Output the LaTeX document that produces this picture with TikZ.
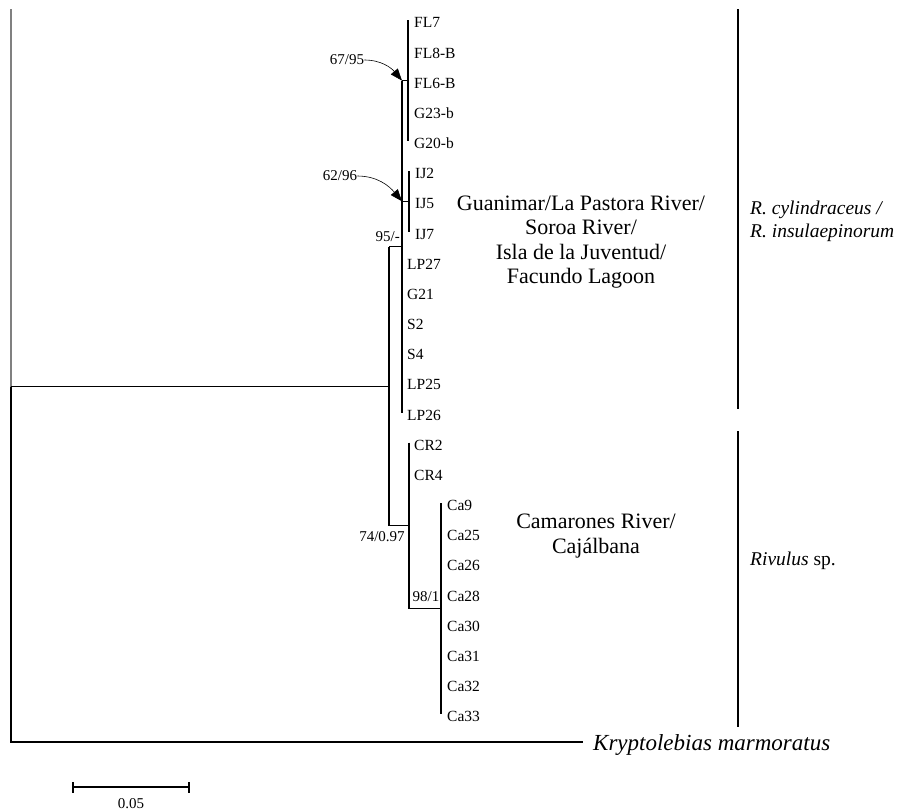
\documentclass[tikz,border=0pt]{standalone}
\usepackage{fontspec}
\setmainfont{Liberation Serif}
\usetikzlibrary{arrows.meta}
\begin{document}
\begin{tikzpicture}[x=1pt,y=-1pt,
  branch/.style={line width=1.5pt},
  tiplab/.style={anchor=west,inner sep=0pt,font=\fontsize{15.5}{18}\selectfont},
  boot/.style={inner sep=0pt,font=\fontsize{15}{17}\selectfont},
  biglab/.style={inner sep=0pt,align=center,font=\fontsize{22}{24.5}\selectfont},
  sidelab/.style={inner sep=0pt,anchor=west,align=left,font=\fontsize{19.5}{23}\selectfont},
  bar/.style={line width=2.6pt},
  pointer/.style={line width=0.6pt,-{Triangle[length=12pt,width=9pt]}}]
\useasboundingbox (0,0) rectangle (922,811);
% internal nodes
\coordinate (rootTop) at (11,9);
\coordinate (root) at (11,386.5);
\coordinate (rootBot) at (11,742);
\coordinate (kmEnd) at (583,742);
\coordinate (nIn) at (389,386.5);
\coordinate (nInTop) at (389,246.5);
\coordinate (nInBot) at (389,525.6);
\coordinate (nT) at (402,246.5);
\coordinate (nTTop) at (402,80.6);
\coordinate (nTBot) at (402,412.5);
\coordinate (nFL) at (408,80.6);
\coordinate (nFLTop) at (408,20.3);
\coordinate (nFLBot) at (408,141.0);
\coordinate (nIJ) at (409,201.3);
\coordinate (nIJTop) at (409,171.2);
\coordinate (nIJBot) at (409,231.5);
\coordinate (nR) at (409,525.6);
\coordinate (nRTop) at (409,442.7);
\coordinate (nRBot) at (409,608.6);
\coordinate (nCa) at (441,608.6);
\coordinate (nCaTop) at (441,503.0);
\coordinate (nCaBot) at (441,714.2);
% branches
\draw[line width=1.5pt,gray] (rootTop) -- (root);
\draw[branch] (root) -- (rootBot) -- (kmEnd);
\draw[branch] (root) -- (nIn);
\draw[branch] (nInTop) -- (nInBot);
\draw[branch] (nInTop) -- (nT);
\draw[branch] (nInBot) -- (nR);
\draw[branch] (nTTop) -- (nTBot);
\draw[branch] (nTTop) -- (nFL);
\draw[branch] (nFLTop) -- (nFLBot);
\draw[branch] (nIJ -| nT) -- (nIJ);
\draw[branch] (nIJTop) -- (nIJBot);
\draw[branch] (nRTop) -- (nRBot);
\draw[branch] (nRBot) -- (nCa);
\draw[branch] (nCaTop) -- (nCaBot);
% tip labels
\foreach \n/\t/\x/\y in {FL7/FL7/414/20.3, FL8B/FL8-B/414/50.5, FL6B/FL6-B/414/80.6, G23b/G23-b/414/110.8, G20b/G20-b/414/141.0,
  IJ2/IJ2/415/171.2, IJ5/IJ5/415/201.3, IJ7/IJ7/415/231.5,
  LP27/LP27/407/261.7, G21/G21/407/291.8, S2/S2/407/322.0, S4/S4/407/352.2, LP25/LP25/407/382.3, LP26/LP26/407/412.5,
  CR2/CR2/414/442.7, CR4/CR4/414/472.9,
  Ca9/Ca9/447/503.0, Ca25/Ca25/447/533.2, Ca26/Ca26/447/563.4, Ca28/Ca28/447/593.5, Ca30/Ca30/447/623.7, Ca31/Ca31/447/653.9, Ca32/Ca32/447/684.0, Ca33/Ca33/447/714.2}
  \node[tiplab] (\n) at (\x,\y+2.5) {\t};
\node[anchor=west,inner sep=0pt,font=\fontsize{23}{28}\selectfont\itshape] (km) at (593,745) {Kryptolebias marmoratus};
% support values
\node[boot] (b6795) at (347,60) {67/95};
\node[boot] (b6296) at (340,176) {62/96};
\node[boot,anchor=east] (b95) at (400,237) {95/-};
\node[boot] (b74) at (382,537) {74/0.97};
\node[boot] (b98) at (426,597) {98/1};
\draw[pointer] (b6795.east) to[out=0,in=130] (nFL -| nT);
\draw[pointer] (b6296.east) to[out=0,in=130] (nIJ -| nT);
% group labels
\node[biglab] (grpA) at (581,242) {Guanimar/La Pastora River/\\Soroa River/\\Isla de la Juventud/\\Facundo Lagoon};
\node[biglab] (grpB) at (596,536) {Camarones River/\\Cajálbana};
% side bars
\coordinate (barAT) at (738,9);
\coordinate (barAB) at (738,409);
\coordinate (barBT) at (738,431);
\coordinate (barBB) at (738,727);
\draw[bar] (barAT) -- (barAB);
\draw[bar] (barBT) -- (barBB);
\node[sidelab] (spA) at (750,221) {\textit{R. cylindraceus /}\\\textit{R. insulaepinorum}};
\node[sidelab] (spB) at (750,561) {\textit{Rivulus} sp.};
% scale bar
\coordinate (sbL) at (73,787);
\coordinate (sbR) at (189,787);
\draw[line width=1.2pt] (sbL) -- (sbR);
\draw[line width=1.2pt] ([yshift=-5.5]sbL) -- ([yshift=5.5]sbL);
\draw[line width=1.2pt] ([yshift=-5.5]sbR) -- ([yshift=5.5]sbR);
\node[boot] (sbt) at (131,804) {0.05};
\end{tikzpicture}
\end{document}
